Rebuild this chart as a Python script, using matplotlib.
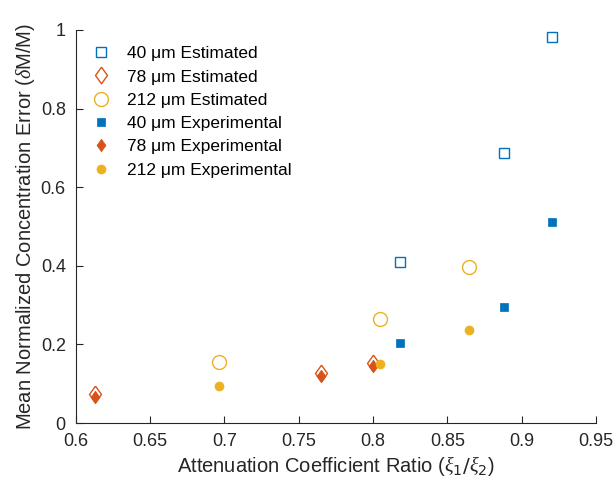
import numpy as np
import matplotlib
matplotlib.use("Agg")
import matplotlib.pyplot as plt

plt.rcParams['font.family'] = ['Liberation Sans', 'DejaVu Sans']
plt.rcParams['mathtext.fontset'] = 'custom'
plt.rcParams['mathtext.it'] = 'Liberation Serif:italic'

# estimated values
ratio_40 = [0.818, 0.888, 0.9205]
est_40 = [0.409, 0.686, 0.983]
ratio_78 = [0.613, 0.765, 0.800]
est_78 = [0.073, 0.128, 0.152]
ratio_212 = [0.6965, 0.805, 0.8646]
est_212 = [0.155, 0.264, 0.398]

# experimental values
exp_40 = [0.204, 0.294, 0.511]
exp_78 = [0.067, 0.120, 0.144]
exp_212 = [0.093, 0.150, 0.237]

labels = ['40 μm Estimated', '78 μm Estimated', '212 μm Estimated',
          '40 μm Experimental', '78 μm Experimental', '212 μm Experimental']

blue = '#0072BD'
orange = '#D95319'
yellow = '#EDB120'
axcol = '#262626'

diamond = [(0, 1), (0.72, 0), (0, -1), (-0.72, 0), (0, 1)]

fig = plt.figure(figsize=(6.14, 4.87), dpi=100)
ax = fig.add_axes([0.123, 0.1314, 0.8477, 0.807])

ax.plot(ratio_40, est_40, ls='none', marker='s', ms=7, mfc='none', mec=blue, mew=1, label=labels[0])
ax.plot(ratio_78, est_78, ls='none', marker=diamond, ms=12, mfc='none', mec=orange, mew=1, label=labels[1])
ax.plot(ratio_212, est_212, ls='none', marker='o', ms=10, mfc='none', mec=yellow, mew=1, label=labels[2])
ax.plot(ratio_40, exp_40, ls='none', marker='s', ms=6, mfc=blue, mec=blue, mew=0.5, label=labels[3])
ax.plot(ratio_78, exp_78, ls='none', marker=diamond, ms=9, mfc=orange, mec=orange, mew=0.5, label=labels[4])
ax.plot(ratio_212, exp_212, ls='none', marker='o', ms=6.5, mfc=yellow, mec=yellow, mew=0.5, label=labels[5])

ax.set_xlim(0.6, 0.95)
ax.set_ylim(0, 1)
ax.set_xticks(np.arange(0.6, 0.951, 0.05))
ax.set_xticklabels(['0.6', '0.65', '0.7', '0.75', '0.8', '0.85', '0.9', '0.95'])
ax.set_yticks(np.arange(0, 1.01, 0.2))
ax.set_yticklabels(['0', '0.2', '0.4', '0.6', '0.8', '1'])

for s in ['top', 'right']:
    ax.spines[s].set_visible(False)
for s in ['left', 'bottom']:
    ax.spines[s].set_color(axcol)
    ax.spines[s].set_linewidth(0.8)
ax.tick_params(direction='in', length=5, width=0.8, colors=axcol, labelsize=13, pad=7)

ax.set_xlabel(r'Attenuation Coefficient Ratio ($\xi_1/\xi_2$)', fontsize=14.5, color=axcol, labelpad=3)
ax.set_ylabel(r'Mean Normalized Concentration Error ($\delta$M/M)', fontsize=14.5, color=axcol, labelpad=3)

ax.legend(loc='upper left', frameon=False, fontsize=12.5, handletextpad=0.5,
          labelspacing=0.47, borderaxespad=0.3, bbox_to_anchor=(-0.008, 0.99))

fig.savefig('out.png', dpi=100)
